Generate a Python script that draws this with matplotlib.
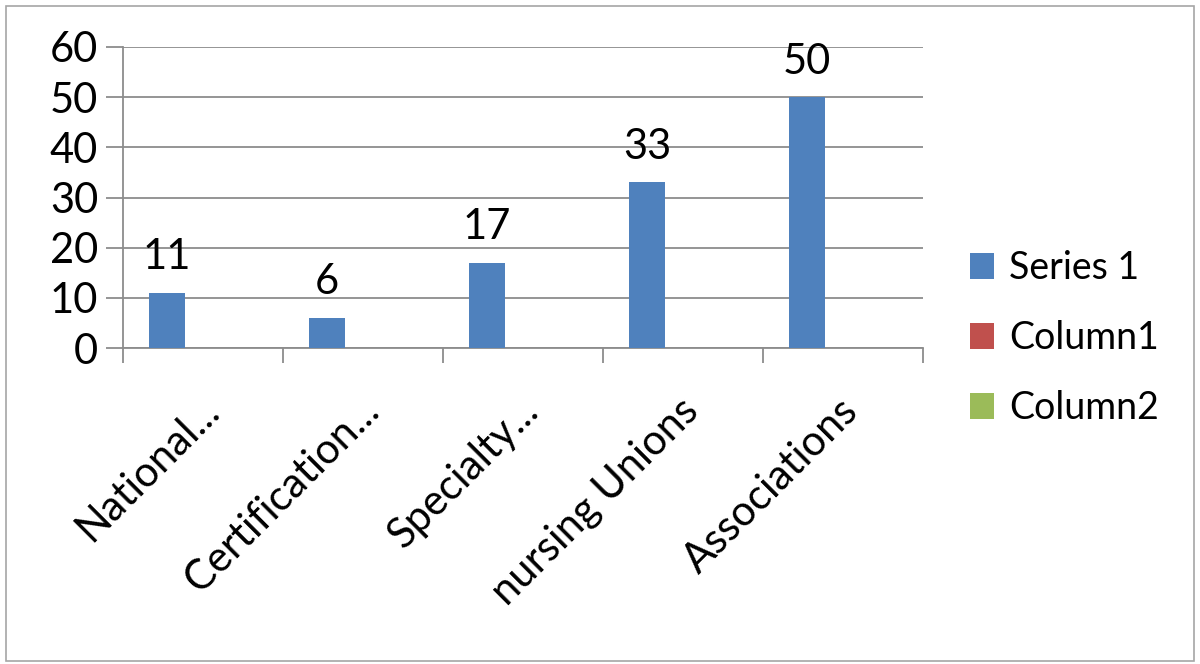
import matplotlib
matplotlib.use("Agg")
import matplotlib.pyplot as plt
import matplotlib.transforms as mtransforms
from matplotlib.patches import Rectangle, Patch
import numpy as np

# chart data
categories = ["National...", "Certification...", "Specialty...", "nursing Unions", "Associations"]
series1 = [11, 6, 17, 33, 50]
series_names = ["Series 1", "Column1", "Column2"]
series_colors = ["#4F81BD", "#C0504D", "#9BBB59"]
y_ticks = [0, 10, 20, 30, 40, 50, 60]

plt.rcParams['font.family'] = ['Lato', 'DejaVu Sans']
grey = "#8C8C8C"
fs = 30

fig = plt.figure(figsize=(12, 6.64), dpi=100)
ax = fig.add_axes([123/1200, 1 - 348/664, 800/1200, 301/664])

x = np.arange(len(categories))
w = 0.225
bars = ax.bar(x - w, series1, width=w, color=series_colors[0], zorder=3)

# value labels over the bars
for xi, v in zip(x - w, series1):
    ax.annotate(str(v), (xi, v), xytext=(0, 12), textcoords="offset points",
                ha="center", va="bottom", fontsize=fs, color="black")

ax.set_xlim(-0.5, len(categories) - 0.5)
ax.set_ylim(0, 60)
ax.set_yticks(y_ticks)
ax.yaxis.grid(True, color=grey, linewidth=1.3, zorder=0)
ax.tick_params(axis="y", length=12, width=1.3, color=grey, labelsize=fs, pad=6)

# category boundaries as major ticks, names on minor ticks
ax.set_xticks(np.arange(-0.5, len(categories), 1.0))
ax.set_xticklabels([])
ax.set_xticks(x, minor=True)
ax.set_xticklabels(categories, minor=True, rotation=45, ha="right",
                   rotation_mode="anchor", fontsize=fs)
ax.tick_params(axis="x", which="major", length=11, width=1.3, color=grey)
ax.tick_params(axis="x", which="minor", length=0, pad=31)
offset = mtransforms.ScaledTranslation(-4/100, 0, fig.dpi_scale_trans)
for lab in ax.xaxis.get_minorticklabels():
    lab.set_transform(lab.get_transform() + offset)

for s in ["top", "right"]:
    ax.spines[s].set_visible(False)
for s in ["left", "bottom"]:
    ax.spines[s].set_color(grey)
    ax.spines[s].set_linewidth(1.3)

handles = [Patch(facecolor=c) for c in series_colors]
fig.legend(handles, series_names, loc="center left", bbox_to_anchor=(970/1200, 1 - 338/664),
           frameon=False, fontsize=27, handlelength=0.65, handleheight=0.7,
           handletextpad=0.4, labelspacing=0.9, borderpad=0, borderaxespad=0)

fig.patches.append(Rectangle((6/1200, 3/664), 1188/1200, 655/664, transform=fig.transFigure,
                             fill=False, edgecolor="#A6A6A6", linewidth=1.2))

fig.savefig("out.png", dpi=100)
